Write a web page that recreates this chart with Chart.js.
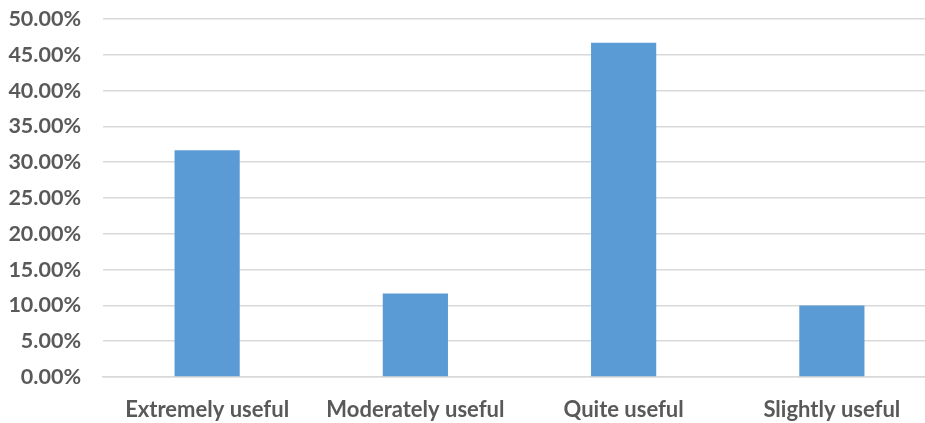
<!DOCTYPE html>
<html>
<head>
<meta charset="utf-8">
<script src="https://cdn.jsdelivr.net/npm/chart.js@4.4.1/dist/chart.umd.min.js"></script>
<style>
  html, body { margin: 0; padding: 0; background: #fff; overflow: hidden; }
  /* the plot area runs a little past the right edge of the picture */
  #wrap { width: 936px; height: 423px; }
</style>
</head>
<body>
<div id="wrap"><canvas id="myChart"></canvas></div>
<script>
const categories = ['Extremely useful', 'Moderately useful', 'Quite useful', 'Slightly useful']
const shares = [0.3167, 0.1167, 0.4667, 0.10]

const textColor = '#595959'
const gridColor = '#d9d9d9'

let ctx = document.getElementById('myChart').getContext('2d')

let myChart = new Chart(ctx, {
    type: 'bar',
    data: {
        labels: categories,
        datasets: [{
            data: shares,
            backgroundColor: '#5b9bd5',
            borderWidth: 0,
            categoryPercentage: 1,
            barPercentage: 0.313
        }]
    },
    options: {
        responsive: true,
        maintainAspectRatio: false,
        animation: false,
        layout: { padding: { top: 19, right: 0, left: 0, bottom: 0 } },
        plugins: {
            legend: { display: false },
            tooltip: { enabled: false }
        },
        scales: {
            x: {
                grid: { display: false },
                border: { color: gridColor, width: 1.5 },
                ticks: {
                    color: textColor,
                    padding: 12,
                    maxRotation: 0,
                    font: { family: 'Lato', weight: 'bold', size: 22 }
                },
                afterFit: scale => {
                    scale.height = 46
                    scale.paddingLeft = 0
                    scale.paddingRight = 0
                }
            },
            y: {
                min: 0,
                max: 0.5,
                border: { display: false },
                grid: { color: gridColor, lineWidth: 1.5, drawTicks: false },
                ticks: {
                    stepSize: 0.05,
                    color: textColor,
                    padding: 22,
                    font: { family: 'Lato', weight: 'bold', size: 21.5 },
                    callback: v => (v * 100).toFixed(2) + '%'
                },
                afterFit: scale => {
                    scale.width = 103
                    scale.paddingTop = 0
                    scale.paddingBottom = 0
                }
            }
        }
    }
})
</script>
</body>
</html>
